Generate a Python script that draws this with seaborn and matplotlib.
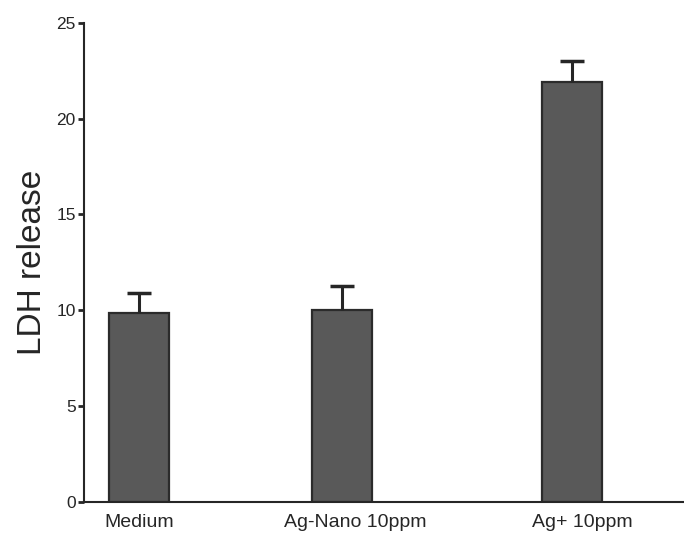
import matplotlib
matplotlib.use("Agg")
import matplotlib.pyplot as plt
import seaborn as sns
import pandas as pd

# Values
groups = ["Medium", "Ag-Nano 10ppm", "Ag+ 10ppm"]
ldh_mean = [9.83, 9.99, 21.89]
ldh_err = [1.08, 1.27, 1.09]

# layout: bar centres and label positions along x (bars are not evenly spaced)
bar_pos = [0, 0.94, 2.0]
label_pos = [0, 1.0, 2.05]

sns.set_style("ticks")
plt.rcParams["font.family"] = ["Liberation Sans", "DejaVu Sans"]

df = pd.DataFrame({"pos": bar_pos, "ldh": ldh_mean, "group": groups})

fig = plt.figure(figsize=(6.84, 5.33), dpi=100)
ax = fig.add_axes([0.1228, 0.0587, 0.8772, 0.8987])

sns.barplot(data=df, x="pos", y="ldh", native_scale=True, orient="x",
            width=0.2775 / 0.94, color="#595959", saturation=1,
            edgecolor="#2b2b2b", linewidth=1.6, errorbar=None, ax=ax)

# one-sided (upper) error bars, hide the lower cap
eb = ax.errorbar(bar_pos, ldh_mean, yerr=[[0] * len(ldh_err), ldh_err], fmt="none",
                 ecolor="#262626", elinewidth=2.2, capsize=8.6, capthick=2.5)
eb[1][0].set_visible(False)

ax.set_xlim(-0.254, 2.52)
ax.set_ylim(0, 25)
ax.set_yticks([0, 5, 10, 15, 20, 25])
ax.set_xticks(label_pos)
ax.set_xticklabels(groups)

ax.tick_params(axis="y", length=4, width=2, colors="#262626", labelsize=12.5, pad=2)
ax.tick_params(axis="x", length=0, labelsize=14, pad=9, colors="#262626")
for lab in ax.get_xticklabels() + ax.get_yticklabels():
    lab.set_color("#262626")

ax.set_xlabel("")
ax.set_ylabel("LDH release", fontsize=24, color="#262626", labelpad=6)

sns.despine(ax=ax)
ax.spines["left"].set_linewidth(1.5)
ax.spines["bottom"].set_linewidth(1.5)
ax.spines["left"].set_color("#262626")
ax.spines["bottom"].set_color("#262626")

fig.savefig("out.png", dpi=100)
